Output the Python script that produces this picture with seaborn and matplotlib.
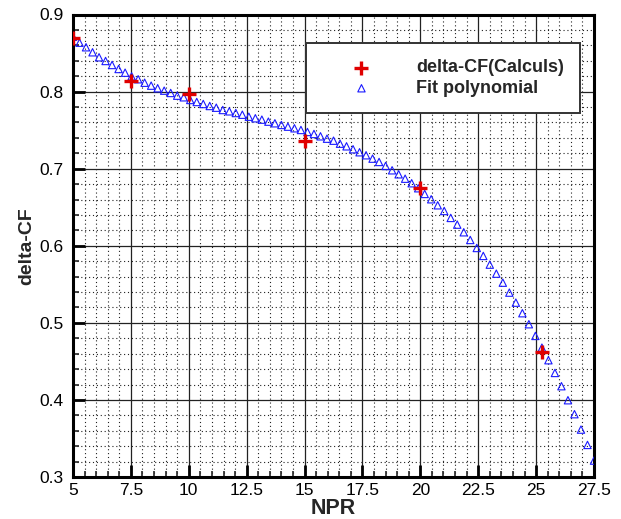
import numpy as np
import pandas as pd
import matplotlib
matplotlib.use("Agg")
import matplotlib.pyplot as plt
import seaborn as sns
from matplotlib.ticker import MultipleLocator

# calculated delta-CF
npr_calc = [5, 7.5, 10, 15, 20, 25.25]
dcf_calc = [0.870, 0.814, 0.797, 0.736, 0.675, 0.462]

# fit polynomial, sampled evenly from NPR 5 to 27.5
npr_fit = np.linspace(5, 27.5, 81)
dcf_fit = [
    0.8712, 0.8634, 0.8575, 0.8510, 0.8445, 0.8397, 0.8345, 0.8293, 0.8245, 0.8198,
    0.8160, 0.8115, 0.8077, 0.8043, 0.8012, 0.7982, 0.7947, 0.7926, 0.7891, 0.7865,
    0.7839, 0.7813, 0.7791, 0.7761, 0.7744, 0.7722, 0.7700, 0.7674, 0.7654, 0.7636,
    0.7610, 0.7589, 0.7567, 0.7545, 0.7524, 0.7502, 0.7476, 0.7450, 0.7420, 0.7389,
    0.7363, 0.7324, 0.7290, 0.7252, 0.7213, 0.7174, 0.7130, 0.7087, 0.7035, 0.6979,
    0.6927, 0.6870, 0.6811, 0.6746, 0.6672, 0.6603, 0.6525, 0.6451, 0.6361, 0.6274,
    0.6175, 0.6075, 0.5971, 0.5868, 0.5755, 0.5638, 0.5521, 0.5392, 0.5262, 0.5125,
    0.4982, 0.4830, 0.4678, 0.4515, 0.4350, 0.4178, 0.3996, 0.3815, 0.3615, 0.3416,
    0.3213,
]

xticks = [5, 7.5, 10, 12.5, 15, 17.5, 20, 22.5, 25, 27.5]
xtick_labels = ["5", "7.5", "10", "12.5", "15", "17.5", "20", "22.5", "25", "27.5"]
yticks = [0.3, 0.4, 0.5, 0.6, 0.7, 0.8, 0.9]
ytick_labels = ["0.3", "0.4", "0.5", "0.6", "0.7", "0.8", "0.9"]

df_calc = pd.DataFrame({"NPR": npr_calc, "dCF": dcf_calc})
df_fit = pd.DataFrame({"NPR": npr_fit, "dCF": dcf_fit})

sns.set_theme(style="white")
plt.rcParams["font.family"] = ["Liberation Sans", "DejaVu Sans"]

fig = plt.figure(figsize=(6.21, 5.19), dpi=100)
ax = fig.add_axes([73 / 621, 1 - 477 / 519, 521 / 621, 462.5 / 519])

#fit triangles
sns.scatterplot(data=df_fit, x="NPR", y="dCF", marker="^", s=28,
                facecolor="none", edgecolor="#1a1aff", linewidth=0.8,
                label="Fit polynomial", ax=ax, zorder=3)
#calculated points
sns.scatterplot(data=df_calc, x="NPR", y="dCF", marker="+", s=90,
                color="#e00000", linewidth=2.4,
                label="delta-CF(Calculs)", ax=ax, zorder=4)

ax.set_xlim(5, 27.5)
ax.set_ylim(0.3, 0.9)
ax.set_xticks(xticks)
ax.set_xticklabels(xtick_labels)
ax.set_yticks(yticks)
ax.set_yticklabels(ytick_labels)
ax.xaxis.set_minor_locator(MultipleLocator(0.5))
ax.yaxis.set_minor_locator(MultipleLocator(0.02))

ax.grid(which="major", color="#222222", linewidth=0.9, linestyle="-")
ax.grid(which="minor", color="#222222", linewidth=0.8, linestyle=(0, (1, 2.5)))
ax.set_axisbelow(True)

for sp in ax.spines.values():
    sp.set_linewidth(2.2)
    sp.set_color("black")

ax.tick_params(which="major", direction="in", length=8.5, width=2,
               labelsize=12.5, colors="black")
ax.tick_params(axis="x", which="major", pad=4.5)
ax.tick_params(axis="y", which="major", pad=7)
ax.tick_params(which="minor", direction="in", length=4.5, width=1.2)
ax.tick_params(left=True, bottom=True, which="both")

ax.set_xlabel("NPR", fontsize=15.5, fontweight="bold", labelpad=0)
ax.set_ylabel("delta-CF", fontsize=14, fontweight="bold", labelpad=3)

handles, labels = ax.get_legend_handles_labels()
leg = ax.legend(handles[::-1], labels[::-1],
                bbox_to_anchor=(0.4466, 0.79, 0.5264, 0.1477), loc="upper left",
                mode="expand", borderaxespad=0, fancybox=False, framealpha=1,
                edgecolor="#333333", prop={"weight": "bold", "size": 13},
                handlelength=4.4, handletextpad=0.84, borderpad=0.89,
                labelspacing=0.2, scatterpoints=1)
leg.get_frame().set_linewidth(1.4)

fig.savefig("out.png", dpi=100)
